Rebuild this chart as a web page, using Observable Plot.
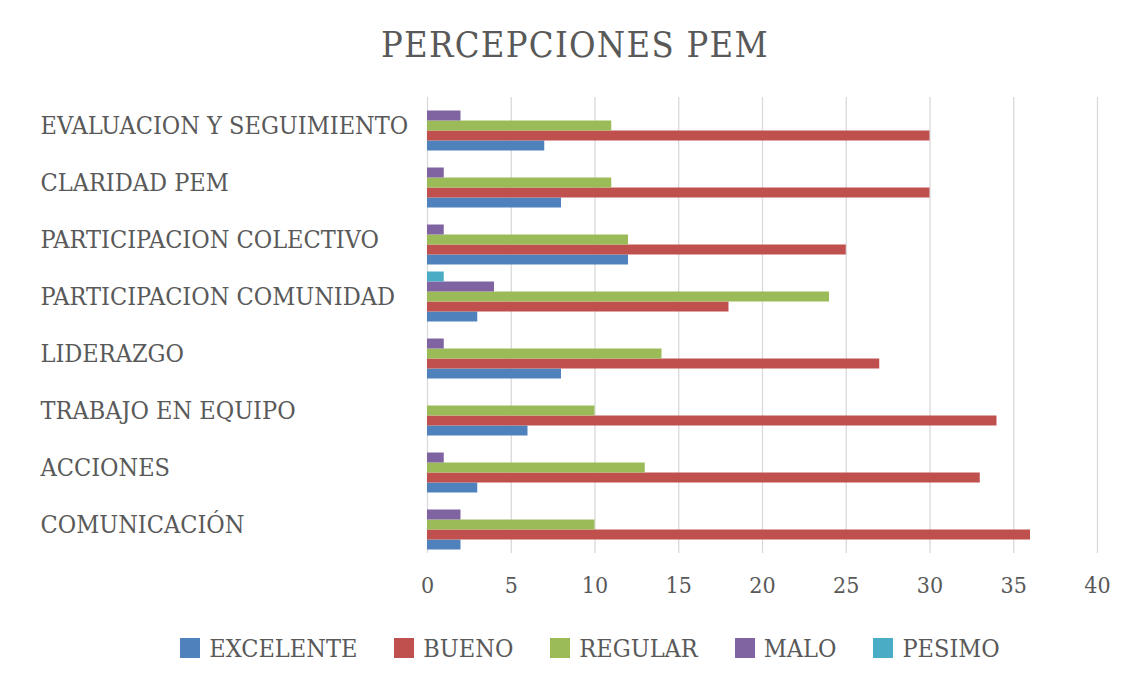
<!DOCTYPE html>
<html>
<head>
<meta charset="utf-8">
<script src="https://cdn.jsdelivr.net/npm/d3@7"></script>
<script src="https://cdn.jsdelivr.net/npm/@observablehq/plot@0.6"></script>
<style>
  html, body { margin: 0; padding: 0; background: #fff; }
  #wrap { width: 1135px; height: 686px; position: relative; overflow: hidden; font-family: "DejaVu Serif Condensed", "DejaVu Serif", serif; color: #595959; }
  #title { position: absolute; left: 0; top: 0; width: 1150px; height: 90px; text-align: center; font-size: 36px; line-height: 90px; letter-spacing: 1.3px; }
  #chart { position: absolute; left: 0; top: 92px; }
  #legend { position: absolute; left: 0; top: 628px; width: 1180px; height: 40px; display: flex; justify-content: center; align-items: center; gap: 37px; font-size: 25px; }
  .item { display: flex; align-items: center; gap: 9px; }
  .sw { width: 20px; height: 20px; display: inline-block; }
</style>
</head>
<body>
<div id="wrap">
  <div id="title">PERCEPCIONES PEM</div>
  <div id="chart"></div>
  <div id="legend"></div>
</div>
<script>
const categories = ["EVALUACION Y SEGUIMIENTO","CLARIDAD PEM","PARTICIPACION COLECTIVO","PARTICIPACION COMUNIDAD","LIDERAZGO","TRABAJO EN EQUIPO","ACCIONES","COMUNICACIÓN"];
const series = ["EXCELENTE","BUENO","REGULAR","MALO","PESIMO"];
const excelente = [7, 8, 12, 3, 8, 6, 3, 2];
const bueno     = [30, 30, 25, 18, 27, 34, 33, 36];
const regular   = [11, 11, 12, 24, 14, 10, 13, 10];
const malo      = [2, 1, 1, 4, 1, 0, 1, 2];
const pesimo    = [0, 0, 0, 1, 0, 0, 0, 0];
const colors = ["#4F81BD","#C0504D","#9BBB59","#8064A2","#4BACC6"];
const xTicks = [0, 5, 10, 15, 20, 25, 30, 35, 40];

const valuesBySeries = [excelente, bueno, regular, malo, pesimo];
const rows = [];
categories.forEach((c, i) => {
  series.forEach((s, j) => rows.push({category: c, series: s, value: valuesBySeries[j][i]}));
});

const chart = Plot.plot({
  width: 1135,
  height: 510,
  marginLeft: 427,
  marginRight: 38,
  marginTop: 4.5,
  marginBottom: 49.5,
  style: {fontFamily: '"DejaVu Serif Condensed", "DejaVu Serif", serif', fontSize: "23px", color: "#595959", background: "transparent"},
  x: {domain: [0, 40], ticks: xTicks, tickSize: 0, tickPadding: 23, label: null},
  fy: {domain: categories, padding: 0, axis: null},
  y: {domain: series.slice().reverse(), paddingInner: 0, paddingOuter: 0.335, axis: null},
  color: {domain: series, range: colors},
  marks: [
    Plot.ruleX(xTicks, {stroke: "#d9d9d9", strokeWidth: 1.3}),
    Plot.barX(rows, {x: "value", y: "series", fy: "category", fill: "series"}),
    Plot.text(categories, {fy: d => d, text: d => d, frameAnchor: "left", textAnchor: "start", dx: -387, fill: "#595959", fontSize: 25})
  ]
});
document.getElementById("chart").appendChild(chart);

const legend = document.getElementById("legend");
series.forEach((s, j) => {
  const it = document.createElement("div");
  it.className = "item";
  const sw = document.createElement("span");
  sw.className = "sw";
  sw.style.background = colors[j];
  const t = document.createElement("span");
  t.textContent = s;
  it.appendChild(sw); it.appendChild(t);
  legend.appendChild(it);
});
</script>
</body>
</html>
